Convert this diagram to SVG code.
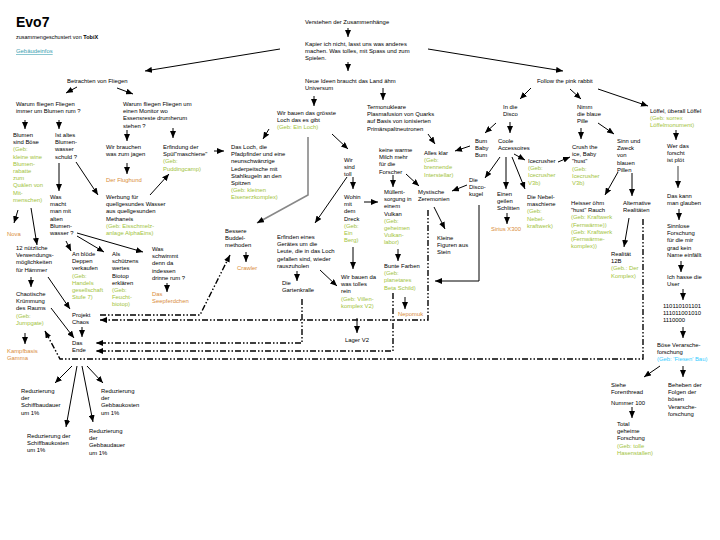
<svg xmlns="http://www.w3.org/2000/svg" width="720" height="540" viewBox="0 0 720 540">
<style>
.t{font-family:"Liberation Sans",Arial,sans-serif;font-size:5.9px;fill:#000}
.g{fill:#9fc33c}
.o{fill:#d98c3a}
.cy{fill:#33ccff}
.c{stroke:#000;stroke-width:1;fill:none}
.gr{stroke:#888;stroke-width:1.6;fill:none}
.dd{stroke:#000;stroke-width:1.4;fill:none;stroke-dasharray:6 2 1.5 2 1.5 2}
</style>
<defs>
<marker id="a" markerWidth="7" markerHeight="6" refX="7" refY="3" orient="auto" markerUnits="userSpaceOnUse"><path d="M0,0 L7,3 L0,6 z" fill="#000"/></marker>
</defs>
<rect width="720" height="540" fill="#fff"/>
<g id="header">
<text x="16" y="27" style="font-family:'Liberation Sans',Arial,sans-serif;font-size:14px;font-weight:bold">Evo7</text>
<text class="t" x="16" y="39" style="font-size:5.5px">zusammengeschustert von <tspan font-weight="bold">TobiX</tspan></text>
<text class="t" x="16" y="53" style="fill:#3aa0b0;text-decoration:underline">Gebäudeinfos</text>
</g>
<g id="connectors">
<path class="c" marker-end="url(#a)" d="M348,28 V37"/>
<path class="c" marker-end="url(#a)" d="M348,62 V71"/>
<path class="c" marker-end="url(#a)" d="M280,49 L145,71"/>
<path class="c" marker-end="url(#a)" d="M428,49 L563,71"/>
<path class="c" marker-end="url(#a)" d="M77,87 L66,93"/>
<path class="c" marker-end="url(#a)" d="M117,88 L133,94"/>
<path class="c" marker-end="url(#a)" d="M25,120 V129"/>
<path class="c" marker-end="url(#a)" d="M59,120 V129"/>
<path class="c" marker-end="url(#a)" d="M127,130 V141"/>
<path class="c" marker-end="url(#a)" d="M173,128 V138"/>
<path class="c" marker-end="url(#a)" d="M127,163 V174"/>
<path class="c" marker-end="url(#a)" d="M214,151 H224"/>
<path class="c" marker-end="url(#a)" d="M314,96 V106"/>
<path class="c" marker-end="url(#a)" d="M383,88 V100"/>
<path class="c" marker-end="url(#a)" d="M269,129 L263,139"/>
<path class="c" marker-end="url(#a)" d="M332,134 L348,149"/>
<path class="gr" marker-end="url(#a)" d="M308,137 V195 L257,223"/>
<path class="c" marker-end="url(#a)" d="M59,163 V191"/>
<path class="c" marker-end="url(#a)" d="M76,162 L98,195"/>
<path class="c" marker-end="url(#a)" d="M150,195 L169,174"/>
<path class="c" marker-end="url(#a)" d="M18,210 L14,223"/>
<path class="c" marker-end="url(#a)" d="M31,208 L37,245"/>
<path class="c" marker-end="url(#a)" d="M31,277 V287"/>
<path class="c" marker-end="url(#a)" d="M25,333 V344"/>
<path class="c" marker-end="url(#a)" d="M66,241 L71,251"/>
<path class="c" marker-end="url(#a)" d="M77,236 L104,252"/>
<path class="c" marker-end="url(#a)" d="M77,233 L143,252"/>
<path class="c" marker-end="url(#a)" d="M167,283 V292"/>
<path class="c" marker-end="url(#a)" d="M48,277 L70,309"/>
<path class="c" marker-end="url(#a)" d="M51,308 L74,338"/>
<path class="c" marker-end="url(#a)" d="M82,327 V337"/>
<path class="c" marker-end="url(#a)" d="M246,252 V262"/>
<path class="c" marker-end="url(#a)" d="M347,177 L315,223"/>
<path class="c" marker-end="url(#a)" d="M353,177 V189"/>
<path class="c" marker-end="url(#a)" d="M297,271 V281"/>
<path class="c" marker-end="url(#a)" d="M320,270 L337,286"/>
<path class="c" marker-end="url(#a)" d="M353,247 V269"/>
<path class="c" marker-end="url(#a)" d="M357,318 V333"/>
<path class="c" marker-end="url(#a)" d="M364,202 H378"/>
<path class="c" marker-end="url(#a)" d="M428,134 L435,144"/>
<path class="c" marker-end="url(#a)" d="M393,175 V187"/>
<path class="c" marker-end="url(#a)" d="M406,174 L419,186"/>
<path class="c" marker-end="url(#a)" d="M470,146 L455,151"/>
<path class="c" marker-end="url(#a)" d="M531,88 L520,99"/>
<path class="c" marker-end="url(#a)" d="M570,89 L581,99"/>
<path class="c" marker-end="url(#a)" d="M598,89 L648,106"/>
<path class="c" marker-end="url(#a)" d="M496,123 L485,133"/>
<path class="c" marker-end="url(#a)" d="M510,122 V133"/>
<path class="c" marker-end="url(#a)" d="M514,154 L525,160"/>
<path class="c" marker-end="url(#a)" d="M500,157 L485,178"/>
<path class="c" marker-end="url(#a)" d="M506,157 V189"/>
<path class="c" marker-end="url(#a)" d="M512,157 L525,189"/>
<path class="c" marker-end="url(#a)" d="M467,185 L452,191"/>
<path class="c" marker-end="url(#a)" d="M507,213 V224"/>
<path class="c" marker-end="url(#a)" d="M558,162 L570,157"/>
<path class="c" marker-end="url(#a)" d="M581,128 V139"/>
<path class="c" marker-end="url(#a)" d="M598,123 L614,134"/>
<path class="c" marker-end="url(#a)" d="M618,172 L605,195"/>
<path class="c" marker-end="url(#a)" d="M632,173 V196"/>
<path class="c" marker-end="url(#a)" d="M629,218 L624,247"/>
<path class="c" marker-end="url(#a)" d="M676,130 V140"/>
<path class="gr" marker-end="url(#a)" d="M678,166 V188"/>
<path class="c" marker-end="url(#a)" d="M679,209 V220"/>
<path class="c" marker-end="url(#a)" d="M681,261 V272"/>
<path class="c" marker-end="url(#a)" d="M683,289 V300"/>
<path class="c" marker-end="url(#a)" d="M683,327 V338"/>
<path class="c" marker-end="url(#a)" d="M660,366 L644,377"/>
<path class="c" marker-end="url(#a)" d="M683,366 V377"/>
<path class="c" marker-end="url(#a)" d="M632,407 V418"/>
<path class="c" marker-end="url(#a)" d="M434,207 L445,229"/>
<path class="c" marker-end="url(#a)" d="M398,249 V261"/>
<path class="c" marker-end="url(#a)" d="M405,297 V309"/>
<path class="c" marker-end="url(#a)" d="M479,205 V281 H435"/>
<path class="c" marker-end="url(#a)" d="M72,366 L55,383"/>
<path class="c" marker-end="url(#a)" d="M77,366 L66,427"/>
<path class="c" marker-end="url(#a)" d="M82,366 L93,422"/>
<path class="c" marker-end="url(#a)" d="M87,366 L103,383"/>
<path class="dd" marker-end="url(#a)" d="M302,299 V343 H96"/>
<path class="dd" marker-end="url(#a)" d="M428,210 V320 H100"/>
<path class="dd" marker-end="url(#a)" d="M100,315 H200 L230,255"/>
<path class="dd" marker-end="url(#a)" d="M393,293 V351 H96"/>
<path class="dd" marker-end="url(#a)" d="M643,219 V359 H60 L45,331"/>
</g>
<g id="n_verstehen"><text class="t" x="305" y="24">Verstehen der Zusammenhänge</text></g>
<g id="n_kapier"><text class="t" y="46"><tspan x="305">Kapier ich nicht, lasst uns was anderes</tspan><tspan x="305" dy="7.2">machen. Was tolles, mit Spass und zum</tspan><tspan x="305" dy="7.2">Spielen.</tspan></text></g>
<g id="n_neue"><text class="t" y="83"><tspan x="305">Neue Ideen braucht das Land ähm</tspan><tspan x="305" dy="7.2">Universum</tspan></text></g>
<g id="n_betrachten"><text class="t" x="67" y="83">Betrachten von Fliegen</text></g>
<g id="n_follow"><text class="t" x="537" y="83">Follow the pink rabbit</text></g>
<g id="n_warum1"><text class="t" y="106"><tspan x="16">Warum fliegen Fliegen</tspan><tspan x="16" dy="7.2">immer um Blumen rum ?</tspan></text></g>
<g id="n_warum2"><text class="t" y="106"><tspan x="123">Warum fliegen Fliegen um</tspan><tspan x="123" dy="7.2">einen Monitor wo</tspan><tspan x="123" dy="7.2">Essensreste drumherum</tspan><tspan x="123" dy="7.2">stehen ?</tspan></text></g>
<g id="n_blumen"><text class="t" y="137"><tspan x="13">Blumen</tspan><tspan x="13" dy="7.2">sind Böse</tspan><tspan x="13" dy="7.2" class="g">(Geb:</tspan><tspan x="13" dy="7.2" class="g">kleine wine</tspan><tspan x="13" dy="7.2" class="g">Blumen-</tspan><tspan x="13" dy="7.2" class="g">rabatte</tspan><tspan x="13" dy="7.2" class="g">zum</tspan><tspan x="13" dy="7.2" class="g">Quälen von</tspan><tspan x="13" dy="7.2" class="g">Mit-</tspan><tspan x="13" dy="7.2" class="g">menschen)</tspan></text></g>
<g id="n_altes"><text class="t" y="137"><tspan x="55">Ist altes</tspan><tspan x="55" dy="7.2">Blumen-</tspan><tspan x="55" dy="7.2">wasser</tspan><tspan x="55" dy="7.2">schuld ?</tspan></text></g>
<g id="n_brauchen"><text class="t" y="149"><tspan x="106">Wir brauchen</tspan><tspan x="106" dy="7.2">was zum jagen</tspan></text></g>
<g id="n_flughund"><text class="t o" x="106" y="182">Der Flughund</text></g>
<g id="n_spuel"><text class="t" y="149"><tspan x="163">Erfindung der</tspan><tspan x="163" dy="7.2">Spül"maschiene"</tspan><tspan x="163" dy="7.2" class="g">(Geb:</tspan><tspan x="163" dy="7.2" class="g">Puddingcamp)</tspan></text></g>
<g id="n_loch"><text class="t" y="149"><tspan x="231">Das Loch, die</tspan><tspan x="231" dy="7.2">Pfadpfinder und eine</tspan><tspan x="231" dy="7.2">neunschwänzige</tspan><tspan x="231" dy="7.2">Lederpeitsche mit</tspan><tspan x="231" dy="7.2">Stahlkugeln an den</tspan><tspan x="231" dy="7.2">Spitzen</tspan><tspan x="231" dy="7.2" class="g">(Geb: kleinen</tspan><tspan x="231" dy="7.2" class="g">Eisenerzkomplex)</tspan></text></g>
<g id="n_bauen"><text class="t" y="115"><tspan x="277">Wir bauen das grösste</tspan><tspan x="277" dy="7.2">Loch das es gibt</tspan><tspan x="277" dy="7.2" class="g">(Geb: Ein Loch)</tspan></text></g>
<g id="n_termo"><text class="t" y="109"><tspan x="367">Termonukleare</tspan><tspan x="367" dy="7.2">Plasmafusion von Quarks</tspan><tspan x="367" dy="7.2">auf Basis von ionisierten</tspan><tspan x="367" dy="7.2">Primärspaltneutronen</tspan></text></g>
<g id="n_milch"><text class="t" y="152"><tspan x="379">keine warme</tspan><tspan x="379" dy="7.2">Milch mehr</tspan><tspan x="379" dy="7.2">für die</tspan><tspan x="379" dy="7.2">Forscher</tspan></text></g>
<g id="n_allesklar"><text class="t" y="155"><tspan x="424">Alles klar</tspan><tspan x="424" dy="7.2" class="g">(Geb:</tspan><tspan x="424" dy="7.2" class="g">brennende</tspan><tspan x="424" dy="7.2" class="g">Interstellar)</tspan></text></g>
<g id="n_bum"><text class="t" y="143"><tspan x="475">Bum</tspan><tspan x="475" dy="7.2">Baby</tspan><tspan x="475" dy="7.2">Bum</tspan></text></g>
<g id="n_disco"><text class="t" y="109"><tspan x="503">In die</tspan><tspan x="503" dy="7.2">Disco</tspan></text></g>
<g id="n_coole"><text class="t" y="143"><tspan x="498">Coole</tspan><tspan x="498" dy="7.2">Accessoires</tspan></text></g>
<g id="n_icecrusher"><text class="t" y="163"><tspan x="528">Icecrusher</tspan><tspan x="528" dy="7.2" class="g">(Geb:</tspan><tspan x="528" dy="7.2" class="g">Icecrusher</tspan><tspan x="528" dy="7.2" class="g">V3b)</tspan></text></g>
<g id="n_nimm"><text class="t" y="109"><tspan x="577">Nimm</tspan><tspan x="577" dy="7.2">die blaue</tspan><tspan x="577" dy="7.2">Pille</tspan></text></g>
<g id="n_crush"><text class="t" y="149"><tspan x="572">Crush the</tspan><tspan x="572" dy="7.2">ice, Baby</tspan><tspan x="572" dy="7.2">"hust"</tspan><tspan x="572" dy="7.2" class="g">(Geb:</tspan><tspan x="572" dy="7.2" class="g">Icecrusher</tspan><tspan x="572" dy="7.2" class="g">V3b)</tspan></text></g>
<g id="n_sinn"><text class="t" y="143"><tspan x="617">Sinn und</tspan><tspan x="617" dy="7.2">Zweck</tspan><tspan x="617" dy="7.2">von</tspan><tspan x="617" dy="7.2">blauen</tspan><tspan x="617" dy="7.2">Pillen</tspan></text></g>
<g id="n_loeffel"><text class="t" y="113"><tspan x="650">Löffel, überall Löffel</tspan><tspan x="650" dy="7.2" class="g">(Geb: sorrex</tspan><tspan x="650" dy="7.2" class="g">Löffelmonument)</tspan></text></g>
<g id="n_werdas"><text class="t" y="148"><tspan x="667">Wer das</tspan><tspan x="667" dy="7.2">forscht</tspan><tspan x="667" dy="7.2">ist plöt</tspan></text></g>
<g id="n_wirsind"><text class="t" y="162"><tspan x="344">Wir</tspan><tspan x="344" dy="7.2">sind</tspan><tspan x="344" dy="7.2">toll</tspan></text></g>
<g id="n_wohin"><text class="t" y="199"><tspan x="344">Wohin</tspan><tspan x="344" dy="7.2">mit</tspan><tspan x="344" dy="7.2">dem</tspan><tspan x="344" dy="7.2">Dreck</tspan><tspan x="344" dy="7.2" class="g">(Geb:</tspan><tspan x="344" dy="7.2" class="g">Ein</tspan><tspan x="344" dy="7.2" class="g">Berg)</tspan></text></g>
<g id="n_muell"><text class="t" y="194"><tspan x="384">Müllent-</tspan><tspan x="384" dy="7.2">sorgung in</tspan><tspan x="384" dy="7.2">einem</tspan><tspan x="384" dy="7.2">Vulkan</tspan><tspan x="384" dy="7.2" class="g">(Geb:</tspan><tspan x="384" dy="7.2" class="g">geheimen</tspan><tspan x="384" dy="7.2" class="g">Vulkan-</tspan><tspan x="384" dy="7.2" class="g">labor)</tspan></text></g>
<g id="n_myst"><text class="t" y="194"><tspan x="418">Mystische</tspan><tspan x="418" dy="7.2">Zeremonien</tspan></text></g>
<g id="n_discokugel"><text class="t" y="182"><tspan x="469">Die</tspan><tspan x="469" dy="7.2">Disco-</tspan><tspan x="469" dy="7.2">kugel</tspan></text></g>
<g id="n_schlitten"><text class="t" y="196"><tspan x="497">Einen</tspan><tspan x="497" dy="7.2">geilen</tspan><tspan x="497" dy="7.2">Schlitten</tspan></text></g>
<g id="n_sirius"><text class="t o" x="491" y="231">Sirius X300</text></g>
<g id="n_nebel"><text class="t" y="199"><tspan x="527">Die Nebel-</tspan><tspan x="527" dy="7.2">maschiene</tspan><tspan x="527" dy="7.2" class="g">(Geb:</tspan><tspan x="527" dy="7.2" class="g">Nebel-</tspan><tspan x="527" dy="7.2" class="g">kraftwerk)</tspan></text></g>
<g id="n_heisser"><text class="t" y="205"><tspan x="571">Heisser öhm</tspan><tspan x="571" dy="7.2">"hust" Rauch</tspan><tspan x="571" dy="7.2" class="g">(Geb: Kraftwerk</tspan><tspan x="571" dy="7.2" class="g">(Fernwärme))</tspan><tspan x="571" dy="7.2" class="g">(Geb: Kraftwerk</tspan><tspan x="571" dy="7.2" class="g">(Fernwärme-</tspan><tspan x="571" dy="7.2" class="g">komplex))</tspan></text></g>
<g id="n_alt"><text class="t" y="205"><tspan x="623">Alternative</tspan><tspan x="623" dy="7.2">Realitäten</tspan></text></g>
<g id="n_real"><text class="t" y="256"><tspan x="611">Realität</tspan><tspan x="611" dy="7.2">12B</tspan><tspan x="611" dy="7.2" class="g">(Geb.: Der</tspan><tspan x="611" dy="7.2" class="g">Komplex)</tspan></text></g>
<g id="n_daskann"><text class="t" y="198"><tspan x="667">Das kann</tspan><tspan x="667" dy="7.2">man glauben</tspan></text></g>
<g id="n_sinnlose"><text class="t" y="228"><tspan x="667">Sinnlose</tspan><tspan x="667" dy="7.2">Forschung</tspan><tspan x="667" dy="7.2">für die mir</tspan><tspan x="667" dy="7.2">grad kein</tspan><tspan x="667" dy="7.2">Name einfällt</tspan></text></g>
<g id="n_hasse"><text class="t" y="279"><tspan x="667">Ich hasse die</tspan><tspan x="667" dy="7.2">User</tspan></text></g>
<g id="n_binary"><text class="t" y="308"><tspan x="663">110110101101</tspan><tspan x="663" dy="7.2">111011001010</tspan><tspan x="663" dy="7.2">1110000</tspan></text></g>
<g id="n_boese"><text class="t" y="347"><tspan x="657">Böse Verarsche-</tspan><tspan x="657" dy="7.2">forschung</tspan><tspan x="657" dy="7.2" class="cy">(Geb: 'Fiesen' Bau)</tspan></text></g>
<g id="n_siehe"><text class="t" y="387"><tspan x="611">Siehe</tspan><tspan x="611" dy="7.2">Forenthread</tspan><tspan x="611" dy="10.8">Nummer 100</tspan></text></g>
<g id="n_total"><text class="t" y="426"><tspan x="617">Total</tspan><tspan x="617" dy="7.2">geheime</tspan><tspan x="617" dy="7.2">Forschung</tspan><tspan x="617" dy="7.2" class="g">(Geb: tolle</tspan><tspan x="617" dy="7.2" class="g">Hasenstallen)</tspan></text></g>
<g id="n_beheben"><text class="t" y="387"><tspan x="668">Beheben der</tspan><tspan x="668" dy="7.2">Folgen der</tspan><tspan x="668" dy="7.2">bösen</tspan><tspan x="668" dy="7.2">Verarsche-</tspan><tspan x="668" dy="7.2">forschung</tspan></text></g>
<g id="n_wasmacht"><text class="t" y="199"><tspan x="50">Was</tspan><tspan x="50" dy="7.2">macht</tspan><tspan x="50" dy="7.2">man mit</tspan><tspan x="50" dy="7.2">alten</tspan><tspan x="50" dy="7.2">Blumen-</tspan><tspan x="50" dy="7.2">wasser ?</tspan></text></g>
<g id="n_werbung"><text class="t" y="199"><tspan x="106">Werbung für</tspan><tspan x="106" dy="7.2">quellgesundes Wasser</tspan><tspan x="106" dy="7.2">aus quellgesunden</tspan><tspan x="106" dy="7.2">Methaneis</tspan><tspan x="106" dy="7.2" class="g">(Geb: Eisschmelz-</tspan><tspan x="106" dy="7.2" class="g">anlage AlphaEins)</tspan></text></g>
<g id="n_nova"><text class="t o" x="7" y="236">Nova</text></g>
<g id="n_12"><text class="t" y="250"><tspan x="16">12 nützliche</tspan><tspan x="16" dy="7.2">Verwendungs-</tspan><tspan x="16" dy="7.2">möglichkeiten</tspan><tspan x="16" dy="7.2">für Hämmer</tspan></text></g>
<g id="n_chaotisch"><text class="t" y="296"><tspan x="16">Chaotische</tspan><tspan x="16" dy="7.2">Krümmung</tspan><tspan x="16" dy="7.2">des Raums</tspan><tspan x="16" dy="7.2" class="g">(Geb:</tspan><tspan x="16" dy="7.2" class="g">Jumpgate)</tspan></text></g>
<g id="n_kampf"><text class="t o" y="353"><tspan x="7">Kampfbasis</tspan><tspan x="7" dy="7.2">Gamma</tspan></text></g>
<g id="n_deppen"><text class="t" y="256"><tspan x="72">An blöde</tspan><tspan x="72" dy="7.2">Deppen</tspan><tspan x="72" dy="7.2">verkaufen</tspan><tspan x="72" dy="7.2" class="g">(Geb:</tspan><tspan x="72" dy="7.2" class="g">Handels</tspan><tspan x="72" dy="7.2" class="g">gesellschaft</tspan><tspan x="72" dy="7.2" class="g">Stufe 7)</tspan></text></g>
<g id="n_biotop"><text class="t" y="256"><tspan x="112">Als</tspan><tspan x="112" dy="7.2">schützens</tspan><tspan x="112" dy="7.2">wertes</tspan><tspan x="112" dy="7.2">Biotop</tspan><tspan x="112" dy="7.2">erklären</tspan><tspan x="112" dy="7.2" class="g">(Geb:</tspan><tspan x="112" dy="7.2" class="g">Feucht-</tspan><tspan x="112" dy="7.2" class="g">biotop)</tspan></text></g>
<g id="n_schwimmt"><text class="t" y="251"><tspan x="152">Was</tspan><tspan x="152" dy="7.2">schwimmt</tspan><tspan x="152" dy="7.2">denn da</tspan><tspan x="152" dy="7.2">indessen</tspan><tspan x="152" dy="7.2">drinne rum ?</tspan></text></g>
<g id="n_seepferd"><text class="t o" y="296"><tspan x="152">Das</tspan><tspan x="152" dy="7.2">Seepferdchen</tspan></text></g>
<g id="n_projekt"><text class="t" y="317"><tspan x="72">Projekt</tspan><tspan x="72" dy="7.2">Chaos</tspan></text></g>
<g id="n_ende"><text class="t" y="345"><tspan x="72">Das</tspan><tspan x="72" dy="7.2">Ende</tspan></text></g>
<g id="n_bessere"><text class="t" y="233"><tspan x="225">Bessere</tspan><tspan x="225" dy="7.2">Buddel-</tspan><tspan x="225" dy="7.2">methoden</tspan></text></g>
<g id="n_crawler"><text class="t o" x="237" y="270">Crawler</text></g>
<g id="n_erfinden"><text class="t" y="239"><tspan x="277">Erfinden eines</tspan><tspan x="277" dy="7.2">Gerätes um die</tspan><tspan x="277" dy="7.2">Leute, die in das Loch</tspan><tspan x="277" dy="7.2">gefallen sind, wieder</tspan><tspan x="277" dy="7.2">rauszuholen</tspan></text></g>
<g id="n_garten"><text class="t" y="285"><tspan x="282">Die</tspan><tspan x="282" dy="7.2">Gartenkralle</tspan></text></g>
<g id="n_wirbauenda"><text class="t" y="279"><tspan x="341">Wir bauen da</tspan><tspan x="341" dy="7.2">was tolles</tspan><tspan x="341" dy="7.2">rein</tspan><tspan x="341" dy="7.2" class="g">(Geb: Villen-</tspan><tspan x="341" dy="7.2" class="g">komplex V2)</tspan></text></g>
<g id="n_lager"><text class="t" x="345" y="342">Lager V2</text></g>
<g id="n_bunte"><text class="t" y="268"><tspan x="384">Bunte Farben</tspan><tspan x="384" dy="7.2" class="g">(Geb:</tspan><tspan x="384" dy="7.2" class="g">planetares</tspan><tspan x="384" dy="7.2" class="g">Beta Schild)</tspan></text></g>
<g id="n_nepomuk"><text class="t o" x="398" y="316">Nepomuk</text></g>
<g id="n_kleine"><text class="t" y="240"><tspan x="437">Kleine</tspan><tspan x="437" dy="7.2">Figuren aus</tspan><tspan x="437" dy="7.2">Stein</tspan></text></g>
<g id="n_red1"><text class="t" y="393"><tspan x="21">Reduzierung</tspan><tspan x="21" dy="7.2">der</tspan><tspan x="21" dy="7.2">Schiffbaudauer</tspan><tspan x="21" dy="7.2">um 1%</tspan></text></g>
<g id="n_red2"><text class="t" y="438"><tspan x="27">Reduzierung der</tspan><tspan x="27" dy="7.2">Schiffbaukosten</tspan><tspan x="27" dy="7.2">um 1%</tspan></text></g>
<g id="n_red3"><text class="t" y="433"><tspan x="89">Reduzierung</tspan><tspan x="89" dy="7.2">der</tspan><tspan x="89" dy="7.2">Gebbaudauer</tspan><tspan x="89" dy="7.2">um 1%</tspan></text></g>
<g id="n_red4"><text class="t" y="393"><tspan x="101">Reduzierung</tspan><tspan x="101" dy="7.2">der</tspan><tspan x="101" dy="7.2">Gebbaukosten</tspan><tspan x="101" dy="7.2">um 1%</tspan></text></g>
</svg>
